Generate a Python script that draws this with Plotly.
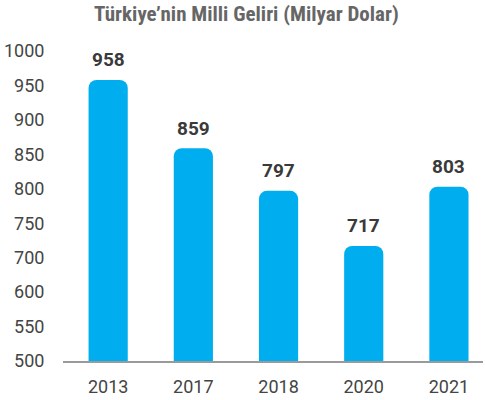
import numpy as np
import plotly.graph_objects as go

years = ["2013", "2017", "2018", "2020", "2021"]
income = [958, 859, 797, 717, 803]
# y-axis tick labels exactly as printed (evenly spaced, 650 absent)
y_tick_labels = [500, 550, 600, 700, 750, 800, 850, 900, 950, 1000]

tick_pos = np.arange(len(y_tick_labels))
bar_pos = [float(p) for p in np.interp(income, y_tick_labels, tick_pos)]
x_idx = list(range(len(years)))

fig = go.Figure()
fig.add_trace(go.Bar(
    x=x_idx, y=bar_pos,
    marker=dict(color="#00AEEF", cornerradius=8, line=dict(width=0)),
    width=0.46, hoverinfo="skip",
))

for i, v, p in zip(x_idx, income, bar_pos):
    fig.add_annotation(x=i, y=p, xref="x", yref="y", text=f"<b>{v}</b>",
                       showarrow=False, yanchor="middle", yshift=20,
                       font=dict(family="Roboto", size=19, color="#3a3a3a"))

fig.update_layout(
    width=485, height=400,
    margin=dict(l=63, r=2, t=51, b=39),
    paper_bgcolor="white", plot_bgcolor="white",
    showlegend=False,
    title=dict(text="<b>Türkiye’nin Milli Geliri (Milyar Dolar)</b>",
               x=0.508, xanchor="center", xref="container", y=0.965, yanchor="middle",
               font=dict(family="Roboto Condensed, Liberation Sans Narrow, DejaVu Sans Condensed, Roboto",
                         size=21, color="#666666")),
    xaxis=dict(range=[-0.53, 4.40], showgrid=False, automargin=False,
               tickvals=x_idx, ticktext=years,
               showline=True, linecolor="#9a9a9a", linewidth=1.5,
               ticks="outside", ticklen=9, tickcolor="rgba(0,0,0,0)",
               tickfont=dict(family="Roboto", size=18, color="#444444")),
    yaxis=dict(range=[0, 9], tickvals=list(tick_pos), automargin=False,
               ticktext=[str(t) for t in y_tick_labels],
               showgrid=False, zeroline=False, showline=False,
               ticks="outside", ticklen=14, tickcolor="rgba(0,0,0,0)",
               tickfont=dict(family="Roboto", size=18, color="#444444")),
)

fig.write_html("out.html", config={"displayModeBar": False},
               post_script="document.body.style.margin='0';document.body.style.padding='0';")
